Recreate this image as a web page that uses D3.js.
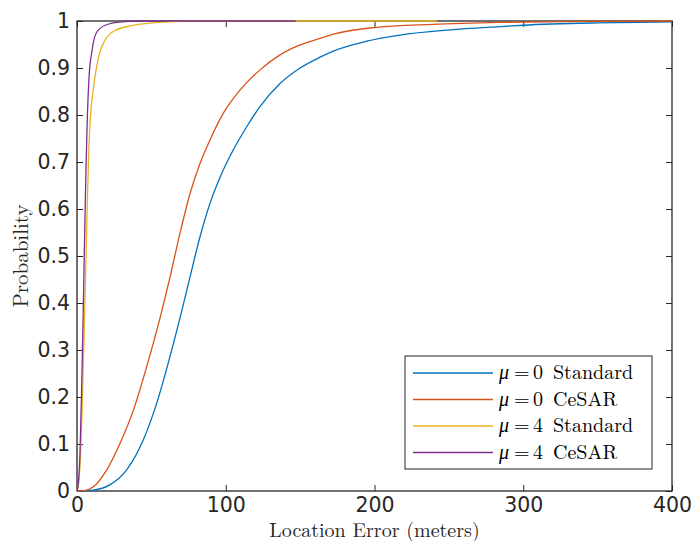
<!DOCTYPE html>
<html>
<head>
<meta charset="utf-8">
<script src="https://cdn.jsdelivr.net/npm/d3@7"></script>
<style>
  body { margin: 0; background: #fff; }
  svg { display: block; }
</style>
</head>
<body>
<script>
// location error (m) / probability pairs
const std0 = [[0,0],[11,0.002],[22,0.013],[33.4,0.045],[44.6,0.109],[53.6,0.187],[62.5,0.286],[71.5,0.397],[75.5,0.449],[82.7,0.541],[89.4,0.612],[96.1,0.667],[105.1,0.726],[114.1,0.775],[123,0.818],[136.5,0.867],[150,0.9],[163.4,0.923],[172.3,0.936],[194.8,0.957],[217.1,0.97],[250.8,0.981],[284.4,0.988],[300,0.991],[350,0.996],[400,0.998]];
const cesar0 = [[0,0],[5,0.001],[11,0.009],[20,0.045],[28.9,0.101],[37.9,0.172],[46.8,0.264],[55.8,0.368],[62.1,0.449],[69.2,0.548],[76,0.633],[82.7,0.697],[89.4,0.747],[98.4,0.804],[109.6,0.853],[123,0.896],[136.5,0.928],[150,0.949],[163.4,0.963],[172.3,0.972],[199.2,0.986],[239.5,0.993],[284.4,0.997],[340,0.999],[400,1]];
const std4 = [[0,0],[1.5,0.03],[3,0.13],[4,0.24],[5,0.36],[6,0.49],[7,0.62],[8,0.73],[9,0.795],[11,0.855],[14.6,0.925],[19,0.96],[25.7,0.98],[37,0.99],[55,0.997],[80,1],[242,1]];
const cesar4 = [[0,0],[1,0.02],[2,0.08],[3,0.2],[4,0.35],[5,0.52],[6,0.68],[7,0.8],[8,0.875],[10,0.935],[13,0.975],[19,0.991],[30,0.998],[40,1],[147,1]];

const legendMu = ["0", "0", "4", "4"];
const legendKind = ["Standard", "CeSAR", "Standard", "CeSAR"];
const seriesData = [std0, cesar0, std4, cesar4];
const colors = ["#0072BD", "#D95319", "#EDB120", "#7E2F8E"];

const xTicks = [0, 100, 200, 300, 400];
const yTicks = [0, 0.1, 0.2, 0.3, 0.4, 0.5, 0.6, 0.7, 0.8, 0.9, 1];

const width = 694, height = 541;
const margin = { top: 21, right: 22, bottom: 50, left: 77 };
const axisColor = "#262626";

const svg = d3.select("body").append("svg")
  .attr("width", width)
  .attr("height", height);

const x = d3.scaleLinear().domain([0, 400]).range([margin.left, width - margin.right]);
const y = d3.scaleLinear().domain([0, 1]).range([height - margin.bottom, margin.top]);

const tickFont = "'DejaVu Sans', sans-serif";
const serif = "'Latin Modern Roman', 'CMU Serif', 'Liberation Serif', serif";

// axes (ticks pointing inward, box on)
const xAxis = svg.append("g")
  .attr("transform", `translate(0,${y(0)})`)
  .call(d3.axisBottom(x).tickValues(xTicks).tickSize(-6).tickPadding(6).tickFormat(d3.format("d")));
const xTop = svg.append("g")
  .attr("transform", `translate(0,${y(1)})`)
  .call(d3.axisTop(x).tickValues(xTicks).tickSize(-6).tickFormat(""));
const yAxis = svg.append("g")
  .attr("transform", `translate(${x(0)},0)`)
  .call(d3.axisLeft(y).tickValues(yTicks).tickSize(-6).tickPadding(7).tickFormat((d) => d3.format("")(d)));
const yRight = svg.append("g")
  .attr("transform", `translate(${x(400)},0)`)
  .call(d3.axisRight(y).tickValues(yTicks).tickSize(-6).tickFormat(""));

[xAxis, xTop, yAxis, yRight].forEach((g) => {
  g.select(".domain").remove();
  g.selectAll("line").attr("stroke", axisColor).attr("stroke-width", 1);
  g.selectAll("text")
    .attr("fill", axisColor)
    .style("font-family", tickFont)
    .style("font-size", "20.5px");
});

svg.append("rect")
  .attr("x", x(0))
  .attr("y", y(1))
  .attr("width", x(400) - x(0))
  .attr("height", y(0) - y(1))
  .attr("fill", "none")
  .attr("stroke", axisColor)
  .attr("stroke-width", 1.3);

// curves
const line = d3.line()
  .x((d) => x(d[0]))
  .y((d) => y(d[1]))
  .curve(d3.curveMonotoneX);

svg.append("g")
  .attr("fill", "none")
  .attr("stroke-width", 1.3)
  .selectAll("path")
  .data(seriesData)
  .join("path")
  .attr("stroke", (d, i) => colors[i])
  .attr("d", line);

// axis labels
svg.append("text")
  .attr("x", (x(0) + x(400)) / 2)
  .attr("y", 536.5)
  .attr("text-anchor", "middle")
  .attr("fill", axisColor)
  .style("font-family", serif)
  .style("font-size", "20px")
  .text("Location Error (meters)");

svg.append("text")
  .attr("transform", `translate(28,${(y(0) + y(1)) / 2}) rotate(-90)`)
  .attr("text-anchor", "middle")
  .attr("fill", axisColor)
  .style("font-family", serif)
  .style("font-size", "21px")
  .text("Probability");

// legend
const legend = svg.append("g").attr("transform", "translate(405,356)");
legend.append("rect")
  .attr("width", 247)
  .attr("height", 113)
  .attr("fill", "#fff")
  .attr("stroke", axisColor)
  .attr("stroke-width", 1);

const rows = legend.selectAll("g.row")
  .data(legendKind)
  .join("g")
  .attr("class", "row")
  .attr("transform", (d, i) => `translate(0,${17 + i * 26.5})`);

rows.append("line")
  .attr("x1", 8)
  .attr("x2", 88)
  .attr("stroke", (d, i) => colors[i])
  .attr("stroke-width", 1.3);

const legendText = (g, xPos, text, italic) =>
  g.append("text")
    .attr("x", xPos)
    .attr("y", 6)
    .attr("fill", "#000")
    .style("font-family", serif)
    .style("font-style", italic ? "italic" : "normal")
    .style("font-size", "20px")
    .text(text);

legendText(rows, 94, "\u03bc", true);
legendText(rows, 109, "=", false);
legendText(rows, 128, (d, i) => legendMu[i], false);
legendText(rows, 148, (d) => d, false);
</script>
</body>
</html>
